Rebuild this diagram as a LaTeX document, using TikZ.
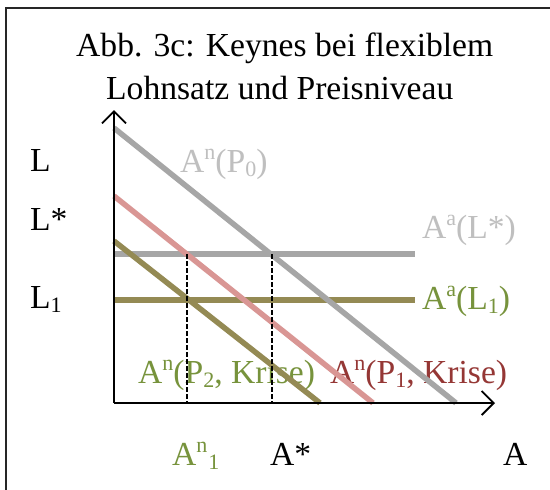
\documentclass[tikz,border=0pt]{standalone}
\usepackage{fontspec}
\setmainfont{Liberation Serif}
\usetikzlibrary{arrows.meta}
\definecolor{grayline}{HTML}{A6A6A6}
\definecolor{graytext}{HTML}{BFBFBF}
\definecolor{pinkline}{HTML}{D99694}
\definecolor{oliveline}{HTML}{948A54}
\definecolor{greentext}{HTML}{77933C}
\definecolor{redtext}{HTML}{953735}
\newcommand\mysup[1]{\raisebox{12.5pt}{\fontsize{22}{22}\selectfont #1}}
\newcommand\mysub[1]{\raisebox{-4pt}{\fontsize{22}{22}\selectfont #1}}
\begin{document}
\begin{tikzpicture}[x=1pt,y=-1pt,
  lbl/.style={anchor=base west,inner sep=0pt,font=\fontsize{33.6}{40}\selectfont},
  axis/.style={line width=1.8pt,-{Straight Barb[length=12pt,width=24pt,line width=1.8pt]}},
  curve/.style={line width=5.5pt},
  guide/.style={line width=1.6pt,dash pattern=on 4.5pt off 2.5pt}]
\useasboundingbox (0,0) rectangle (550,490);
\fill[white] (0,0) rectangle (550,490);
% frame
\draw[line width=2pt,black!85] (6,495) -- (6,8) -- (555,8);
% title
\node[lbl] (t1) at (76,56) {Abb. 3c: Keynes bei flexiblem};
\node[lbl] (t2) at (106,99) {Lohnsatz und Preisniveau};
% axis labels
\node[lbl] (lL) at (30,171) {L};
\node[lbl] (lLs) at (30,230) {L*};
\node[lbl] (lL1) at (30,308) {L\mysub{1}};
\node[lbl,text=greentext] (lAn1) at (172,465) {A\mysup{n}\kern1pt\mysub{1}};
\node[lbl] (lAs) at (270,465) {A*};
\node[lbl] (lA) at (503,465) {A};
% curve labels
\node[lbl,text=graytext] (cP0) at (180,172) {A\mysup{n}(P\mysub{0})};
\node[lbl,text=graytext] (cLs) at (422,238) {A\mysup{a}(L*)};
\node[lbl,text=greentext] (cL1) at (422,309) {A\mysup{a}(L\mysub{1})};
\node[lbl,text=greentext] (cP2) at (138,383) {A\mysup{n}(P\mysub{2}, Krise)};
\node[lbl,text=redtext] (cP1) at (330,383) {A\mysup{n}(P\mysub{1}, Krise)};
% coordinates
\coordinate (O) at (114,403);
\coordinate (ytip) at (114,110);
\coordinate (xtip) at (495,403);
\coordinate (hs0) at (114,254); \coordinate (hs1) at (415,254);
\coordinate (h10) at (114,300); \coordinate (h11) at (415,300);
\coordinate (g0) at (114,128); \coordinate (g1) at (456,403);
\coordinate (p0) at (114,196); \coordinate (p1) at (373,403);
\coordinate (o0) at (114,241); \coordinate (o1) at (320,403);
\coordinate (d1t) at (187,254); \coordinate (d1b) at (187,403);
\coordinate (d2t) at (272,254); \coordinate (d2b) at (272,403);
% horizontal curves
\draw[curve,grayline] (hs0) -- (hs1);
\draw[curve,oliveline] (h10) -- (h11);
% diagonal curves
\draw[curve,grayline] (g0) -- (g1);
\draw[curve,pinkline] (p0) -- (p1);
\draw[curve,oliveline] (o0) -- (o1);
% guides
\draw[guide] (d1t) -- (d1b);
\draw[guide] (d2t) -- (d2b);
% axes
\draw[axis] (O) -- (ytip);
\draw[axis] (O) -- (xtip);
\end{tikzpicture}
\end{document}
